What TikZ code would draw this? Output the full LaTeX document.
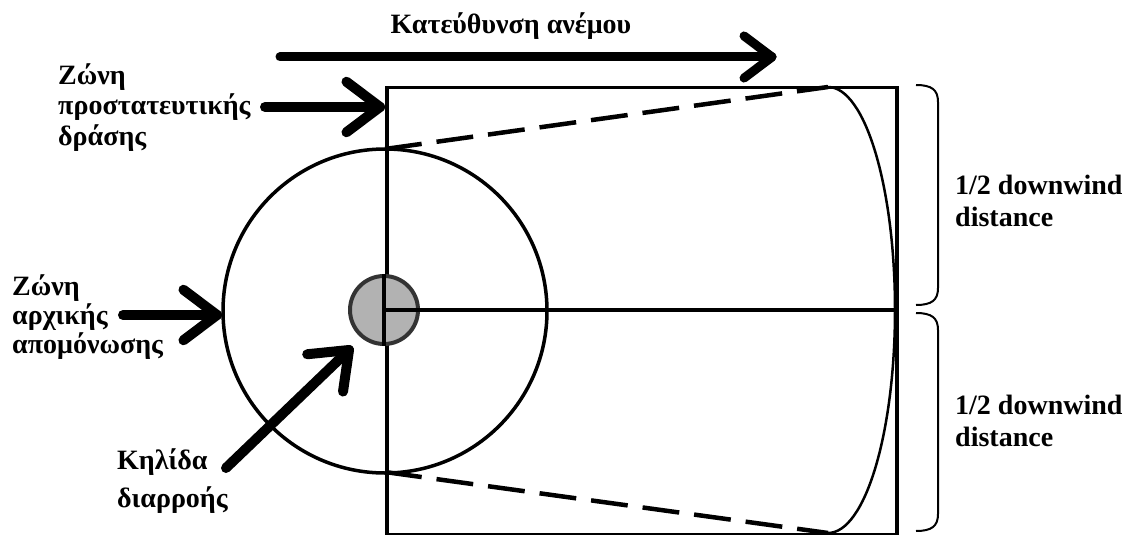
\documentclass[tikz,border=0pt]{standalone}
\usepackage{fontspec}
\setmainfont{Liberation Serif}
\usetikzlibrary{calc}
\begin{document}
\begin{tikzpicture}[x={(1pt,0)},y={(0,-1pt)},
  bigarrow/.style={line width=10pt,line cap=round,line join=round},
  shapeline/.style={line width=3.5pt},
  dashline/.style={line width=4.5pt,dash pattern=on 37pt off 15pt},
  bracestyle/.style={line width=2pt},
  lbl/.style={font=\bfseries\fontsize{28}{29}\selectfont,align=left,inner sep=0pt}]
\useasboundingbox (0,0) rectangle (1125,535);
% rectangle
\node[draw,shapeline,minimum width=510pt,minimum height=447pt,inner sep=0pt,anchor=north west] (rect) at (385,86) {};
% big circle
\node[draw,circle,shapeline,minimum size=324pt,inner sep=0pt] (iso) at (385,311) {};
% center line
\coordinate (c) at (385,310);
\coordinate (r) at (895,310);
\draw[shapeline] (c) -- (r);
% dashed lines
\coordinate (dt0) at (385,149);
\coordinate (dt1) at (828,87);
\coordinate (db0) at (385,472);
\coordinate (db1) at (828,533);
\draw[dashline] (dt0) -- (dt1);
\draw[dashline] (db0) -- (db1);
% plume curve
\draw[line width=2.5pt] (dt1) arc[start angle=90,end angle=-90,x radius=67pt,y radius=223pt];
% spill
\node[circle,draw=black!80,line width=4pt,fill=black!30,minimum size=68pt,inner sep=0pt] (spill) at (384,310) {};
\draw[shapeline] (spill.center) -- (spill.north);
\draw[shapeline] (spill.center) -- (spill.south);
\draw[shapeline] (spill.center) -- (spill.east);
% wind arrow
\node[lbl,anchor=base] (wind) at (511,34) {Κατεύθυνση ανέμου};
\coordinate (w0) at (280,57);
\coordinate (w1) at (772,57);
\draw[bigarrow,line width=9pt] (w0) -- (w1);
\draw[bigarrow,line width=9pt] ($(w1)!35pt!37:(w0)$) -- (w1) -- ($(w1)!35pt!-37:(w0)$);
% protective zone arrow
\node[lbl,anchor=north west,font=\bfseries\fontsize{28}{30.5}\selectfont] (prot) at (58,63) {Ζώνη\\προστατευτικής\\δράσης};
\coordinate (p0) at (265,107);
\coordinate (p1) at (380,107);
\draw[bigarrow] (p0) -- (p1);
\draw[bigarrow] ($(p1)!42pt!37:(p0)$) -- (p1) -- ($(p1)!42pt!-37:(p0)$);
% isolation zone arrow
\node[lbl,anchor=north west] (isol) at (12,274) {Ζώνη\\αρχικής\\απομόνωσης};
\coordinate (i0) at (123,315);
\coordinate (i1) at (217,315);
\draw[bigarrow] (i0) -- (i1);
\draw[bigarrow] ($(i1)!42pt!37:(i0)$) -- (i1) -- ($(i1)!42pt!-37:(i0)$);
% spill arrow
\node[lbl,anchor=north west] (spl) at (117,448) {Κηλίδα\\[9pt]διαρροής};
\coordinate (s0) at (226,468);
\coordinate (s1) at (349,350);
\draw[bigarrow] (s0) -- (s1);
\draw[bigarrow] ($(s1)!42pt!38:(s0)$) -- (s1) -- ($(s1)!42pt!-38:(s0)$);
% braces
\coordinate (b1) at (916,85);
\coordinate (b2) at (916,305);
\coordinate (b3) at (916,313);
\coordinate (b4) at (916,531);
\draw[bracestyle] (b1) .. controls (932,85) and (938,90) .. (938,102) -- (938,288) .. controls (938,300) and (932,305) .. (b2);
\draw[bracestyle] (b3) .. controls (932,313) and (938,318) .. (938,330) -- (938,514) .. controls (938,526) and (932,531) .. (b4);
\node[lbl,anchor=north west,font=\bfseries\fontsize{28}{32}\selectfont] (d1) at (955,175) {1/2 downwind\\distance};
\node[lbl,anchor=north west,font=\bfseries\fontsize{28}{32}\selectfont] (d2) at (955,395) {1/2 downwind\\distance};
\end{tikzpicture}
\end{document}
